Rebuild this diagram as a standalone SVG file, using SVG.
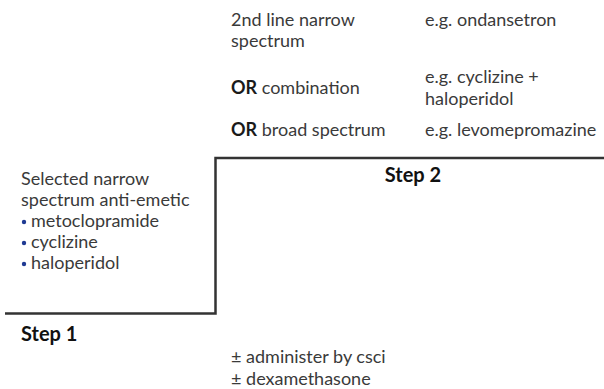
<svg xmlns="http://www.w3.org/2000/svg" width="604" height="389" viewBox="0 0 604 389">
  <style>
    .t { font-family: "Lato", "Open Sans", sans-serif; font-size: 18px; fill: #3a3a3a; }
    .b { font-weight: bold; fill: #1a1a1a; }
    .step { font-family: "Lato", "Open Sans", sans-serif; font-size: 20px; font-weight: bold; fill: #111; }
    .dot { fill: #1f3a93; }
    .stair { fill: none; stroke: #333; stroke-width: 2.5; }
  </style>
  <rect width="604" height="389" fill="#fff"/>
  <g id="connectors">
    <path class="stair" d="M5 313.5 H215.5 V158 H604"/>
  </g>
  <g id="step1">
    <text class="t" x="21" y="185">Selected narrow</text>
    <text class="t" x="21" y="206">spectrum anti-emetic</text>
    <circle class="dot" cx="24" cy="222" r="2.2"/>
    <text class="t" x="31" y="227">metoclopramide</text>
    <circle class="dot" cx="24" cy="243" r="2.2"/>
    <text class="t" x="31" y="248">cyclizine</text>
    <circle class="dot" cx="24" cy="264" r="2.2"/>
    <text class="t" x="31" y="269">haloperidol</text>
    <text class="step" x="21" y="341">Step 1</text>
  </g>
  <g id="step2">
    <text class="t" x="231" y="26">2nd line narrow</text>
    <text class="t" x="231" y="47">spectrum</text>
    <text class="t" x="425" y="26">e.g. ondansetron</text>
    <text class="t" x="231" y="94"><tspan class="b">OR</tspan> combination</text>
    <text class="t" x="425" y="83">e.g. cyclizine +</text>
    <text class="t" x="425" y="105">haloperidol</text>
    <text class="t" x="231" y="136"><tspan class="b">OR</tspan> broad spectrum</text>
    <text class="t" x="425" y="136">e.g. levomepromazine</text>
    <text class="step" x="413" y="182" text-anchor="middle">Step 2</text>
  </g>
  <g id="adjuncts">
    <text class="t" x="231" y="363">± administer by csci</text>
    <text class="t" x="231" y="385">± dexamethasone</text>
  </g>
</svg>
